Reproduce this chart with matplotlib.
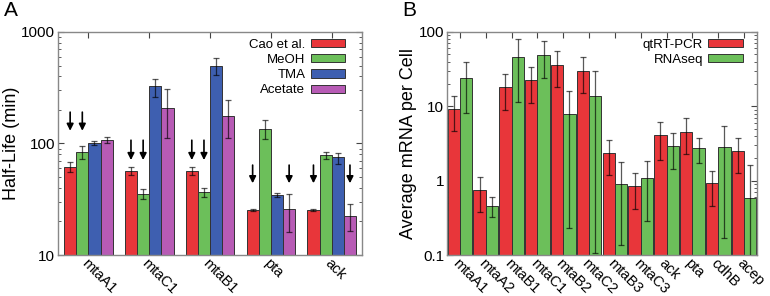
import numpy as np
import matplotlib
matplotlib.use('Agg')
import matplotlib.pyplot as plt

plt.rcParams['font.family'] = ['Liberation Sans', 'DejaVu Sans']

# Panel A: half-lives (min)
genes_a = ['mtaA1', 'mtaC1', 'mtaB1', 'pta', 'ack']
series_a = ['Cao et al.', 'MeOH', 'TMA', 'Acetate']
half_life = {
    'Cao et al.': [62, 56.5, 56.5, 25.3, 25.3],
    'MeOH':       [84, 35.6, 36.9, 136, 78.7],
    'TMA':        [101, 326, 497, 34.4, 75],
    'Acetate':    [107, 210, 177, 25.8, 22.5],
}
half_life_lo = {
    'Cao et al.': [56, 52, 52, 24.6, 24.6],
    'MeOH':       [73, 32, 33.3, 109, 72.4],
    'TMA':        [97, 262, 409, 32.8, 65],
    'Acetate':    [100, 111, 111, 16.2, 16.5],
}
half_life_hi = {
    'Cao et al.': [68, 61, 61, 26, 26],
    'MeOH':       [95, 38.7, 40, 162, 84],
    'TMA':        [105, 377, 585, 36.2, 83],
    'Acetate':    [115, 307, 244, 35.6, 28.6],
}
# arrows: (gene index, series index, tip value, tail value)
arrows_a = [(0, 0, 130, 191), (0, 1, 130, 191),
            (1, 0, 71, 107), (1, 1, 71, 107),
            (2, 0, 71, 107), (2, 1, 71, 107),
            (3, 0, 44, 64), (3, 3, 44, 64),
            (4, 0, 44, 64), (4, 3, 44, 64)]

# Panel B: mRNA per cell
genes_b = ['mtaA1', 'mtaA2', 'mtaB1', 'mtaC1', 'mtaB2', 'mtaC2', 'mtaB3', 'mtaC3',
           'ack', 'pta', 'cdhB', 'acep']
series_b = ['qtRT-PCR', 'RNAseq']
mrna = {
    'qtRT-PCR': [9.2, 0.76, 18.2, 22.4, 35.6, 30.2, 2.38, 0.85, 4.1, 4.57, 0.92, 2.48],
    'RNAseq':   [24, 0.46, 46, 49.7, 8.0, 13.8, 0.9, 1.07, 2.96, 2.75, 2.87, 0.58],
}
mrna_lo = {
    'qtRT-PCR': [4.6, 0.38, 9, 11, 18, 15.1, 1.19, 0.41, 1.9, 2.29, 0.45, 1.26],
    'RNAseq':   [8.1, 0.32, 11.3, 24, 0.23, 0.105, 0.136, 0.29, 1.44, 1.75, 0.17, 0.05],
}
mrna_hi = {
    'qtRT-PCR': [13.6, 1.13, 27.5, 33.5, 55, 46, 3.5, 1.26, 6.1, 6.9, 1.36, 3.7],
    'RNAseq':   [39, 0.61, 81, 75, 15.9, 30, 1.8, 1.86, 4.4, 3.8, 5.45, 1.6],
}

colors = {'Cao et al.': '#e8363a', 'MeOH': '#6cbf5a', 'TMA': '#3e5fb0',
          'Acetate': '#b75bb5', 'qtRT-PCR': '#e8363a', 'RNAseq': '#6cbf5a'}

fig = plt.figure(figsize=(7.7, 2.96), dpi=100)
ax_a = fig.add_axes([0.0753, 0.1385, 0.395, 0.7535])
ax_b = fig.add_axes([0.5805, 0.1385, 0.4026, 0.7535])


def style_axis(ax):
    ax.set_yscale('log')
    for s in ax.spines.values():
        s.set_color('#888888')
        s.set_linewidth(1.0)
    ax.tick_params(which='both', direction='in', top=True, right=True,
                   color='#444444', labelsize=11, pad=2)
    ax.tick_params(axis='x', pad=1)
    ax.tick_params(which='major', length=4)
    ax.tick_params(which='minor', length=2)
    ax.yaxis.set_major_formatter(matplotlib.ticker.FuncFormatter(lambda v, p: f'{v:g}'))
    ax.yaxis.set_minor_formatter(matplotlib.ticker.NullFormatter())


def draw_bars(ax, genes, series, vals, lo, hi, width):
    x = np.arange(len(genes))
    n = len(series)
    for i, s in enumerate(series):
        pos = x + (i - (n - 1) / 2) * width
        v = np.array(vals[s])
        err = [v - np.array(lo[s]), np.array(hi[s]) - v]
        ax.bar(pos, v, width, color=colors[s], edgecolor='#333333',
               linewidth=0.7, label=s, zorder=2)
        ax.errorbar(pos, v, yerr=err, fmt='none', ecolor='black', alpha=0.65,
                    elinewidth=0.9, capsize=2, capthick=0.9, zorder=3)
    ax.set_xticks(x)
    ax.set_xticklabels(genes, rotation=-45, ha='left', va='top',
                       rotation_mode='anchor', fontsize=10.5)
    ax.set_xlim(-0.5, len(genes) - 0.5)
    return x


style_axis(ax_a)
xa = draw_bars(ax_a, genes_a, series_a, half_life, half_life_lo, half_life_hi, 0.2)
ax_a.set_ylim(10, 1000)
ax_a.set_ylabel('Half-Life (min)', fontsize=13, labelpad=1)
for g, s, tip, tail in arrows_a:
    xp = xa[g] + (s - 1.5) * 0.2
    ax_a.annotate('', xy=(xp, tip), xytext=(xp, tail),
                  arrowprops=dict(arrowstyle='-|>', color='black', lw=1.2,
                                  mutation_scale=10, shrinkA=0, shrinkB=0))
ax_a.legend(loc='upper right', bbox_to_anchor=(0.965, 1.0), frameon=False,
            markerfirst=False, fontsize=9.5, handlelength=2.6, handleheight=0.6,
            handletextpad=0.4, labelspacing=0.25, borderaxespad=0.1)

style_axis(ax_b)
draw_bars(ax_b, genes_b, series_b, mrna, mrna_lo, mrna_hi, 0.475)
ax_b.set_ylim(0.1, 100)
ax_b.set_ylabel('Average mRNA per Cell', fontsize=13, labelpad=1)
ax_b.legend(loc='upper right', bbox_to_anchor=(0.975, 1.0), frameon=False,
            markerfirst=False, fontsize=9.5, handlelength=2.6, handleheight=0.6,
            handletextpad=0.4, labelspacing=0.25, borderaxespad=0.1)

fig.text(0.005, 0.995, 'A', fontsize=15, va='top', ha='left')
fig.text(0.523, 0.995, 'B', fontsize=15, va='top', ha='left')

fig.savefig('out.png', dpi=100)
